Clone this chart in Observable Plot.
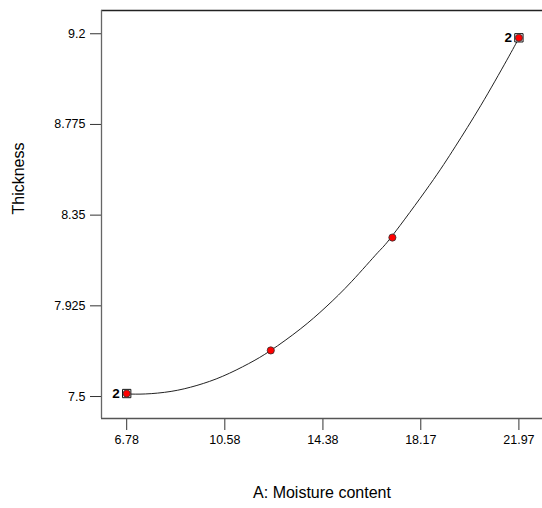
<!DOCTYPE html>
<html>
<head>
<meta charset="utf-8">
<script src="https://cdn.jsdelivr.net/npm/d3@7"></script>
<script src="https://cdn.jsdelivr.net/npm/@observablehq/plot@0.6"></script>
<style>
  html, body { margin: 0; padding: 0; background: #fff; }
  #chart { width: 542px; height: 508px; }
</style>
</head>
<body>
<div id="chart"></div>
<script>
// Design points (actual observations)
const pointX = [6.78, 12.36, 17.07, 21.97];
const pointY = [7.514, 7.716, 8.245, 9.181];
const pointReplicates = [2, 1, 1, 2];

// Fitted model curve
const curveX = [6.78, 7.5, 8.5, 9.5, 10.5, 11.5, 12.36, 13.5, 14.5, 15.5, 16.5, 17.07, 18.5, 19.5, 20.5, 21.5, 21.97];
const curveY = [7.512, 7.512, 7.524, 7.552, 7.595, 7.654, 7.716, 7.816, 7.920, 8.040, 8.174, 8.254, 8.489, 8.670, 8.865, 9.076, 9.180];

// Axis ticks
const xTicks = [6.78, 10.58, 14.38, 18.17, 21.97];
const xTickLabels = ["6.78", "10.58", "14.38", "18.17", "21.97"];
const yTicks = [7.5, 7.925, 8.35, 8.775, 9.2];
const yTickLabels = ["7.5", "7.925", "8.35", "8.775", "9.2"];

const xTitle = "A: Moisture content";
const yTitle = "Thickness";

const xDomain = [5.804, 22.884];
const yDomain = [7.397, 9.309];

const points = pointX.map((x, i) => ({x, y: pointY[i], n: pointReplicates[i]}));
const replicated = points.filter(d => d.n > 1);
const curve = curveX.map((x, i) => ({x, y: curveY[i]}));

const font = "'Liberation Sans', Arial, Helvetica, sans-serif";

const chart = Plot.plot({
  width: 542,
  height: 508,
  marginLeft: 101,
  marginRight: 0,
  marginTop: 10,
  marginBottom: 90,
  style: {fontFamily: font, fontSize: "12px", color: "#000", background: "#fff", overflow: "visible"},
  x: {domain: xDomain, label: null},
  y: {domain: yDomain, label: null},
  marks: [
    Plot.axisX(xTicks, {
      tickSize: 12, tickPadding: 5, stroke: "#333", fontSize: 12.5, fill: "#000",
      tickFormat: d => xTickLabels[xTicks.indexOf(d)], label: null
    }),
    Plot.axisY(yTicks, {
      tickSize: 11, tickPadding: 5, stroke: "#333", fontSize: 12.5, fill: "#000",
      tickFormat: d => yTickLabels[yTicks.indexOf(d)], label: null
    }),
    Plot.ruleY([yDomain[1]], {stroke: "#222", strokeWidth: 1.3}),
    Plot.ruleY([yDomain[0]], {stroke: "#555", strokeWidth: 1.3}),
    Plot.ruleX([xDomain[0]], {stroke: "#666", strokeWidth: 1.3}),
    Plot.line(curve, {x: "x", y: "y", curve: "natural", stroke: "#222", strokeWidth: 1}),
    Plot.dot(replicated, {x: "x", y: "y", symbol: "square", r: 4.7, fill: "#fff", stroke: "#111", strokeWidth: 1}),
    Plot.dot(points, {x: "x", y: "y", r: 3.6, fill: "#ff0000", stroke: "#333", strokeWidth: 0.8}),
    Plot.text(replicated, {x: "x", y: "y", text: d => String(d.n), dx: -7, textAnchor: "end",
      fontWeight: "bold", fontSize: 13.5, fill: "#000"}),
    Plot.text([xTitle], {frameAnchor: "bottom", text: d => d, dy: 79, fontSize: 16,
      fill: "#000", style: "letter-spacing: 2px"}),
    Plot.text([yTitle], {frameAnchor: "left", text: d => d, dx: -83, rotate: -90, fontSize: 16,
      fill: "#000"})
  ]
});

document.getElementById("chart").appendChild(chart);
</script>
</body>
</html>
